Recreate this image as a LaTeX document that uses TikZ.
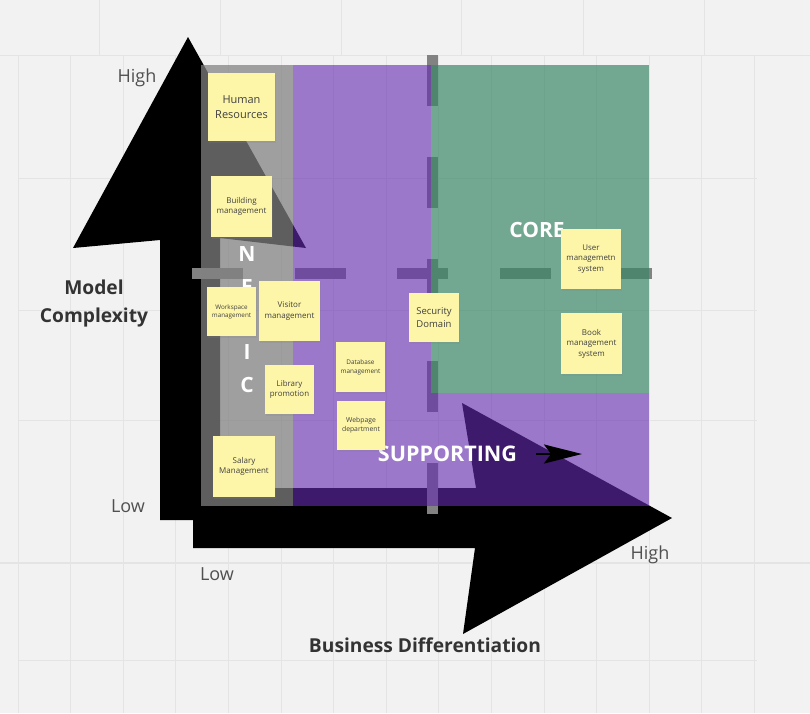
\documentclass[tikz,border=0pt]{standalone}
\usepackage{fontspec}
\setmainfont{Open Sans}
\usetikzlibrary{arrows.meta,shadows}
\definecolor{bgc}{HTML}{F2F2F2}
\definecolor{gridc}{HTML}{E4E4E4}
\definecolor{grayreg}{RGB}{129,129,129}
\definecolor{purpreg}{RGB}{102,43,177}
\definecolor{greenreg}{RGB}{57,135,103}
\definecolor{dashc}{RGB}{130,130,130}
\definecolor{notec}{HTML}{FDF6A8}
\definecolor{notetext}{HTML}{404040}
\definecolor{labelc}{HTML}{505050}
\definecolor{titlec}{HTML}{333333}
\begin{document}
\begin{tikzpicture}[x=1pt,y=-1pt,
  note/.style={fill=notec, inner sep=0pt, align=center, text=notetext,
    drop shadow={shadow xshift=0.5pt, shadow yshift=-2pt, opacity=0.18}},
  axislabel/.style={text=labelc, font=\fontsize{18}{22}\selectfont},
  axistitle/.style={text=titlec, align=center, font=\fontsize{19.2}{28}\selectfont\bfseries},
  region/.style={text=white, font=\fontsize{21}{25}\selectfont\bfseries},
  dashline/.style={draw=dashc, line width=11pt, line cap=butt}
]
\useasboundingbox (0,0) rectangle (810,713);
\fill[bgc] (0,0) rectangle (810,713);
% grid
\foreach \gx in {99,220,341,461,583,704} \draw[gridc, line width=1pt] (\gx,0) -- (\gx,55);
\foreach \k in {0,...,14} \draw[gridc, line width=0.8pt] (18+52.6*\k,55) -- (18+52.6*\k,713);
\foreach \gy in {55,178,310,420,660} \draw[gridc, line width=0.8pt] (18,\gy) -- (757,\gy);
\draw[gridc, line width=1pt] (0,55) -- (810,55);
\draw[gridc, line width=1.2pt] (0,563) -- (810,563);
% black arrows
\fill[black] (188,37) -- (306,248) -- (220,238) -- (220,520) -- (160,520) -- (160,240) -- (73,248) -- cycle;
\fill[black] (193,488) -- (476,488) -- (462,403) -- (672,518) -- (463,634) -- (475,548) -- (193,548) -- cycle;
% dashed guide lines
\coordinate (h1) at (192,273.5); \coordinate (h2) at (652,273.5);
\coordinate (v1) at (432,55); \coordinate (v2) at (432,514);
\draw[dashline, dash pattern=on 51pt off 51.5pt] (h1) -- (h2);
\draw[dashline, dash pattern=on 50.5pt off 51.5pt] (v1) -- (v2);
% regions
\fill[grayreg, opacity=0.73] (201,65) rectangle (293,506);
\fill[purpreg, opacity=0.61] (293,65) rectangle (431,506);
\fill[purpreg, opacity=0.61] (431,393) rectangle (649,506);
\fill[greenreg, opacity=0.69] (431,65) rectangle (649,393);
% region titles (visible letters of GENERIC; the others lie under notes)
\node[region, inner sep=0pt] (genN) at (247,254) {N};
\node[region, inner sep=0pt] (genE) at (247,287) {E};
\node[region, inner sep=0pt] (genI) at (247,352) {I};
\node[region, inner sep=0pt] (genC) at (247,385) {C};
\node[region] (core) at (537,230) {CORE};
\node[region, font=\fontsize{21.5}{25}\selectfont\bfseries] (supp) at (447.5,454) {SUPPORTING};
\coordinate (sa1) at (536,454); \coordinate (sa2) at (582,454);
\draw[black, line width=2.5pt, -{Stealth[length=38pt,width=19pt,inset=7pt]}] (sa1) -- (sa2);
% sticky notes
\node[note, minimum width=67pt, minimum height=68pt, font=\fontsize{11}{14.5}\selectfont] (hr) at (241.5,107) {Human\\Resources};
\node[note, minimum width=61pt, minimum height=61pt, font=\fontsize{8}{10.5}\selectfont] (bm) at (241.5,206.5) {Building\\management};
\node[note, minimum width=49pt, minimum height=49pt, font=\fontsize{6.3}{8.2}\selectfont] (wm) at (231.5,311.5) {Workspace\\management};
\node[note, minimum width=61pt, minimum height=60pt, font=\fontsize{8}{10.5}\selectfont] (vm) at (289.5,311) {Visitor\\management};
\node[note, minimum width=49pt, minimum height=49pt, font=\fontsize{7.9}{10.5}\selectfont] (lp) at (289.5,389.5) {Library\\promotion};
\node[note, minimum width=62pt, minimum height=61pt, font=\fontsize{8}{10.5}\selectfont] (sm) at (244,466.5) {Salary\\Management};
\node[note, minimum width=49pt, minimum height=50pt, font=\fontsize{6.4}{8.8}\selectfont] (dm) at (360.5,367) {Database\\management};
\node[note, minimum width=48pt, minimum height=49pt, font=\fontsize{6.8}{8.8}\selectfont] (wd) at (361,425.5) {Webpage\\department};
\node[note, minimum width=50pt, minimum height=49pt, font=\fontsize{9.5}{12.3}\selectfont] (sd) at (434,317.5) {Security\\Domain};
\node[note, minimum width=60pt, minimum height=60pt, font=\fontsize{7.9}{10.5}\selectfont] (um) at (591,259) {User\\managemetn\\system};
\node[note, minimum width=61pt, minimum height=61pt, font=\fontsize{8}{10.5}\selectfont] (bk) at (591.5,343.5) {Book\\management\\system};
% axis labels
\node[axislabel] (hightop) at (137,78) {High};
\node[axislabel] (lowleft) at (128,506) {Low};
\node[axislabel] (lowbottom) at (217,574) {Low};
\node[axislabel] (highright) at (650,555) {High};
\node[axistitle] (mc) at (94,304) {Model\\Complexity};
\node[axistitle] (bd) at (425,645) {Business Differentiation};
\end{tikzpicture}
\end{document}
